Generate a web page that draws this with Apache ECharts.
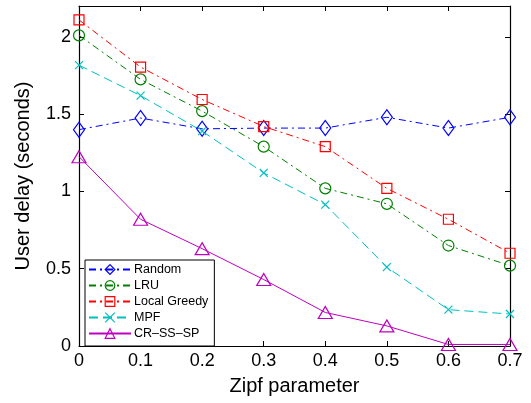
<!DOCTYPE html>
<html><head><meta charset="utf-8">
<script src="https://cdn.jsdelivr.net/npm/echarts@6/dist/echarts.min.js"></script>
<style>html,body{margin:0;padding:0;background:#fff}#c{width:531px;height:403px}</style>
</head><body><div id="c"></div>
<script>
const zipf = [0, 0.1, 0.2, 0.3, 0.4, 0.5, 0.6, 0.7];
const randomDelay = [1.40, 1.475, 1.405, 1.41, 1.41, 1.48, 1.41, 1.48];
const lruDelay = [2.01, 1.725, 1.52, 1.29, 1.02, 0.92, 0.65, 0.52];
const greedyDelay = [2.11, 1.805, 1.595, 1.42, 1.29, 1.02, 0.82, 0.60];
const mpfDelay = [1.817, 1.62, 1.39, 1.12, 0.915, 0.51, 0.235, 0.207];
const crDelay = [1.225, 0.82, 0.63, 0.43, 0.217, 0.13, 0.01, 0.01];
const seriesNames = ['Random', 'LRU', 'Local Greedy', 'MPF', 'CR\u2013SS\u2013SP'];
const seriesColors = ['#0000ff', '#008000', '#ff0000', '#00bfbf', '#bf00bf'];
const yTicks = [0, 0.5, 1, 1.5, 2];

const FONT = 'Liberation Sans, Arial, Helvetica, sans-serif';
const dashDot = [7, 4, 2, 4];
const markerStyle = c => ({ color: 'rgba(0,0,0,0)', borderColor: c, borderWidth: 1.2 });
function mk(i, vals, symbol, size, dash) {
  const color = seriesColors[i];
  return {
    name: seriesNames[i], type: 'line',
    data: zipf.map((x, k) => [x, vals[k]]),
    symbol: symbol, symbolSize: size,
    showAllSymbol: true,
    lineStyle: { color: color, width: 1, type: dash },
    itemStyle: markerStyle(color),
    emphasis: { disabled: true },
    animation: false
  };
}
const chart = echarts.init(document.getElementById('c'), null, { renderer: 'canvas' });
const axisCommon = {
  axisLine: { onZero: false, lineStyle: { color: '#000', width: 1.2 } },
  axisTick: { inside: true, length: 5, lineStyle: { color: '#000' } },
  splitLine: { show: false }
};
chart.setOption({
  backgroundColor: '#fff',
  animation: false,
  grid: { left: 79, right: 21, top: 6, bottom: 57 },
  legend: {
    orient: 'vertical', left: 85, top: 260,
    data: seriesNames.map((n, i) => ({ name: n, itemStyle: markerStyle(seriesColors[i]) })),
    itemWidth: 42, itemHeight: 12, itemGap: 3,
    padding: [3, 6, 6, 3],
    borderColor: '#000', borderWidth: 1,
    backgroundColor: '#fff',
    textStyle: { fontFamily: FONT, fontSize: 12.5, color: '#000', padding: [0, 0, 0, -2] }
  },
  xAxis: [
    Object.assign({
      type: 'value', min: 0, max: 0.7, interval: 0.1,
      name: 'Zipf parameter', nameLocation: 'middle', nameGap: 30,
      nameTextStyle: { fontFamily: FONT, fontSize: 20, color: '#000' },
      axisLabel: { fontFamily: FONT, fontSize: 18, color: '#000', margin: 6,
        formatter: v => (Math.round(v * 10) / 10).toString() }
    }, axisCommon),
    Object.assign({
      type: 'value', min: 0, max: 0.7, interval: 0.1, position: 'top',
      axisLabel: { show: false }
    }, axisCommon)
  ],
  yAxis: [
    Object.assign({
      type: 'value', min: 0, max: 2.2, interval: 0.5,
      name: 'User delay (seconds)', nameLocation: 'middle', nameGap: 46,
      nameTextStyle: { fontFamily: FONT, fontSize: 20, color: '#000' },
      axisLabel: { fontFamily: FONT, fontSize: 18, color: '#000', margin: 8,
        formatter: v => yTicks.some(t => Math.abs(t - v) < 1e-9) ? String(v) : '' }
    }, axisCommon),
    Object.assign({
      type: 'value', min: 0, max: 2.2, interval: 0.5, position: 'right',
      axisLabel: { show: false }
    }, axisCommon)
  ],
  series: [
    mk(0, randomDelay, 'diamond', [11, 15], dashDot),
    mk(1, lruDelay, 'circle', 11, dashDot),
    mk(2, greedyDelay, 'rect', 10, dashDot),
    mk(3, mpfDelay, 'path://M0,0L10,10M10,0L0,10', 8, [9, 5]),
    mk(4, crDelay, 'triangle', [14, 12], 'solid')
  ]
});
</script></body></html>
